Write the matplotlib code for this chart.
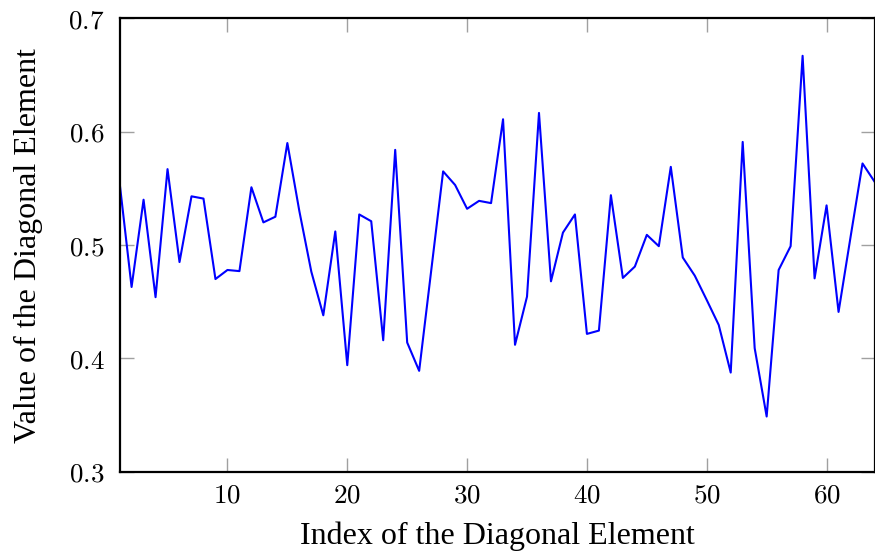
import matplotlib
matplotlib.use("Agg")
import matplotlib.pyplot as plt
from matplotlib.ticker import FuncFormatter

index = list(range(1, 65))
values = [0.555, 0.463, 0.540, 0.454, 0.567, 0.485, 0.543, 0.541, 0.470, 0.478,
          0.477, 0.551, 0.520, 0.525, 0.590, 0.530, 0.4765, 0.438, 0.512, 0.394,
          0.527, 0.521, 0.416, 0.584, 0.414, 0.389, 0.477, 0.565, 0.553, 0.532,
          0.539, 0.537, 0.611, 0.412, 0.4545, 0.6166, 0.468, 0.511, 0.527, 0.4216,
          0.4245, 0.544, 0.471, 0.481, 0.509, 0.499, 0.569, 0.489, 0.473, 0.4515,
          0.4295, 0.3875, 0.591, 0.409, 0.3487, 0.478, 0.499, 0.667, 0.4706, 0.535,
          0.441, 0.507, 0.572, 0.556]
xticks = [10, 20, 30, 40, 50, 60]
yticks = [0.3, 0.4, 0.5, 0.6, 0.7]
xlabel = "Index of the Diagonal Element"
ylabel = "Value of the Diagonal Element"

plt.rcParams['mathtext.fontset'] = 'cm'

W, H = 875, 557
fig = plt.figure(figsize=(W / 100, H / 100), dpi=100)
left, right, top, bottom = 119.6, 874.5, 18.4, 471.7
ax = fig.add_axes([left / W, 1 - bottom / H, (right - left) / W, (bottom - top) / H])

ax.plot(index, values, color='#0000ff', lw=1.5)
ax.set_xlim(1, 64)
ax.set_ylim(0.3, 0.7)
ax.set_xticks(xticks)
ax.set_yticks(yticks)
ax.xaxis.set_major_formatter(FuncFormatter(lambda v, p: r'$%d$' % v))
ax.yaxis.set_major_formatter(FuncFormatter(lambda v, p: r'$%.1f$' % v))
ax.tick_params(direction='in', length=10, width=1, color='#a0a0a0',
               top=True, right=True, labelsize=19.5)
ax.tick_params(axis='x', pad=8)
ax.tick_params(axis='y', pad=11)
for s in ax.spines.values():
    s.set_linewidth(1.6)
    s.set_color('black')

ax.set_xlabel(xlabel, family='Liberation Serif', fontsize=23, labelpad=9)
ax.set_ylabel(ylabel, family='Liberation Serif', fontsize=23, labelpad=18)

fig.savefig('out.png', dpi=100)
